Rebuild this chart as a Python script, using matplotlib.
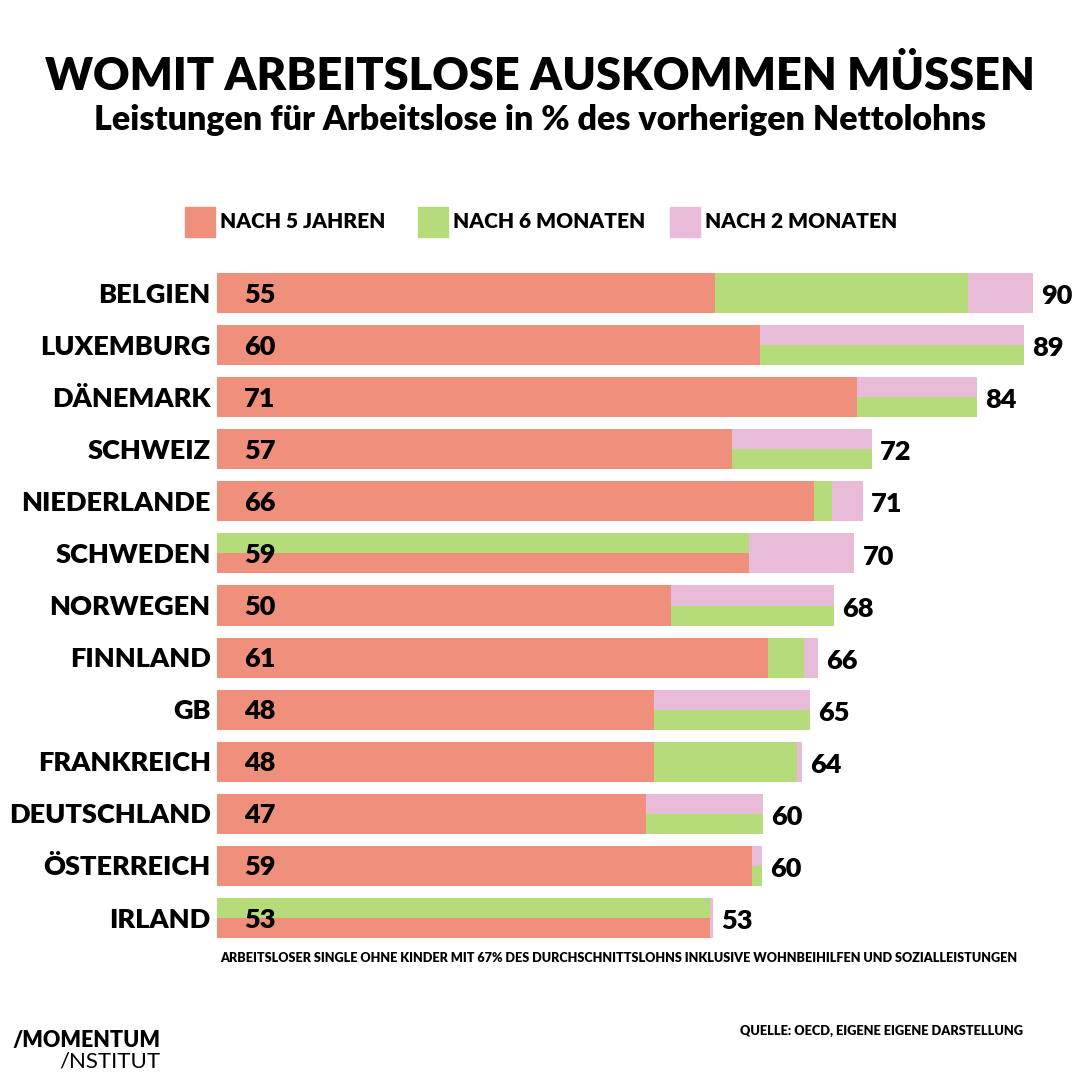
import matplotlib.pyplot as plt
from matplotlib.patches import Rectangle

# Data
countries = ['BELGIEN', 'LUXEMBURG', 'DÄNEMARK', 'SCHWEIZ', 'NIEDERLANDE', 'SCHWEDEN',
             'NORWEGEN', 'FINNLAND', 'GB', 'FRANKREICH', 'DEUTSCHLAND', 'ÖSTERREICH', 'IRLAND']
after_5y = [54.9, 59.9, 70.6, 56.8, 65.8, 58.7, 50.1, 60.8, 48.2, 48.2, 47.3, 59.0, 54.4]
after_6m = [82.8, 89.0, 83.8, 72.2, 67.8, 58.7, 68.0, 64.7, 65.4, 64.0, 60.2, 60.1, 54.4]
after_2m = [90.0, 89.0, 83.8, 72.2, 71.2, 70.3, 68.0, 66.3, 65.4, 64.5, 60.2, 60.1, 54.7]
labels_5y = ['55', '60', '71', '57', '66', '59', '50', '61', '48', '48', '47', '59', '53']
labels_total = ['90', '89', '84', '72', '71', '70', '68', '66', '65', '64', '60', '60', '53']

C_5Y = '#EF907C'
C_6M = '#B5DB7A'
C_2M = '#E8BBD8'
FONT = 'Lato'

W = H = 1080
fig = plt.figure(figsize=(10.8, 10.8), dpi=100)
fig.patch.set_facecolor('white')


def px(x, y):
    # pixel coords (from top-left) to figure fraction
    return x / W, 1 - y / H


# axes: x 0..90 -> 217..1033 px, rows centred 293..918 px
ax = fig.add_axes([217 / W, 1 - 944 / H, 816 / W, 677 / H])
ax.set_xlim(0, 90)
ax.set_ylim(12.5, -0.5)
ax.axis('off')

h = 0.77
for i, c in enumerate(countries):
    y5, m6, m2 = after_5y[i], after_6m[i], after_2m[i]
    split_6_2 = m6 == m2
    split_5_6 = y5 == m6
    # 2 months (pink)
    if split_6_2:
        ax.barh(i - h / 4, m2, height=h / 2, color=C_2M)
    else:
        ax.barh(i, m2, height=h, color=C_2M)
    # 6 months (green)
    if split_6_2:
        ax.barh(i + h / 4, m6, height=h / 2, color=C_6M)
    elif split_5_6:
        ax.barh(i - h / 4, m6, height=h / 2, color=C_6M)
    else:
        ax.barh(i, m6, height=h, color=C_6M)
    # 5 years (salmon)
    if split_5_6:
        ax.barh(i + h / 4, y5, height=h / 2, color=C_5Y)
    else:
        ax.barh(i, y5, height=h, color=C_5Y)

    ax.text(-0.7, i + 0.03, c, ha='right', va='center', fontsize=19.5, fontweight='heavy',
            family=FONT, color='black', clip_on=False)
    ax.text(3.0, i + 0.03, labels_5y[i], ha='left', va='center', fontsize=19.5,
            fontweight='heavy', family=FONT, color='black')
    ax.text(m2 + 0.9, i + 0.06, labels_total[i], ha='left', va='center', fontsize=19.5,
            fontweight='heavy', family=FONT, color='black', clip_on=False)

# titles
fig.text(*px(540, 76), 'WOMIT ARBEITSLOSE AUSKOMMEN MÜSSEN', ha='center', va='center',
         fontsize=32.5, fontweight='heavy', family=FONT)
fig.text(*px(540, 120), 'Leistungen für Arbeitslose in % des vorherigen Nettolohns',
         ha='center', va='center', fontsize=24.5, fontweight='heavy', family=FONT)

# legend
legend_items = [('NACH 5 JAHREN', C_5Y, 185), ('NACH 6 MONATEN', C_6M, 418),
                ('NACH 2 MONATEN', C_2M, 670)]
for txt, col, x0 in legend_items:
    fx, fy = px(x0, 237)
    fig.patches.append(Rectangle((fx, fy), 30 / W, 30 / H, transform=fig.transFigure,
                                 color=col))
    fig.text(*px(x0 + 35, 222), txt, ha='left', va='center', fontsize=15,
             fontweight='heavy', family=FONT)

# notes
fig.text(*px(220, 958), 'ARBEITSLOSER SINGLE OHNE KINDER MIT 67% DES DURCHSCHNITTSLOHNS '
         'INKLUSIVE WOHNBEIHILFEN UND SOZIALLEISTUNGEN', ha='left', va='center',
         fontsize=9.1, fontweight='heavy', family=FONT)
fig.text(*px(1023, 1031), 'QUELLE: OECD, EIGENE EIGENE DARSTELLUNG', ha='right',
         va='center', fontsize=9.2, fontweight='heavy', family=FONT)

# logo
fig.text(*px(160, 1041), '/MOMENTUM', ha='right', va='center', fontsize=15.5,
         fontweight='heavy', family=FONT)
fig.text(*px(160, 1061), '/NSTITUT', ha='right', va='center', fontsize=16,
         fontweight='normal', family=FONT)

fig.savefig('out.png', dpi=100, facecolor='white')
